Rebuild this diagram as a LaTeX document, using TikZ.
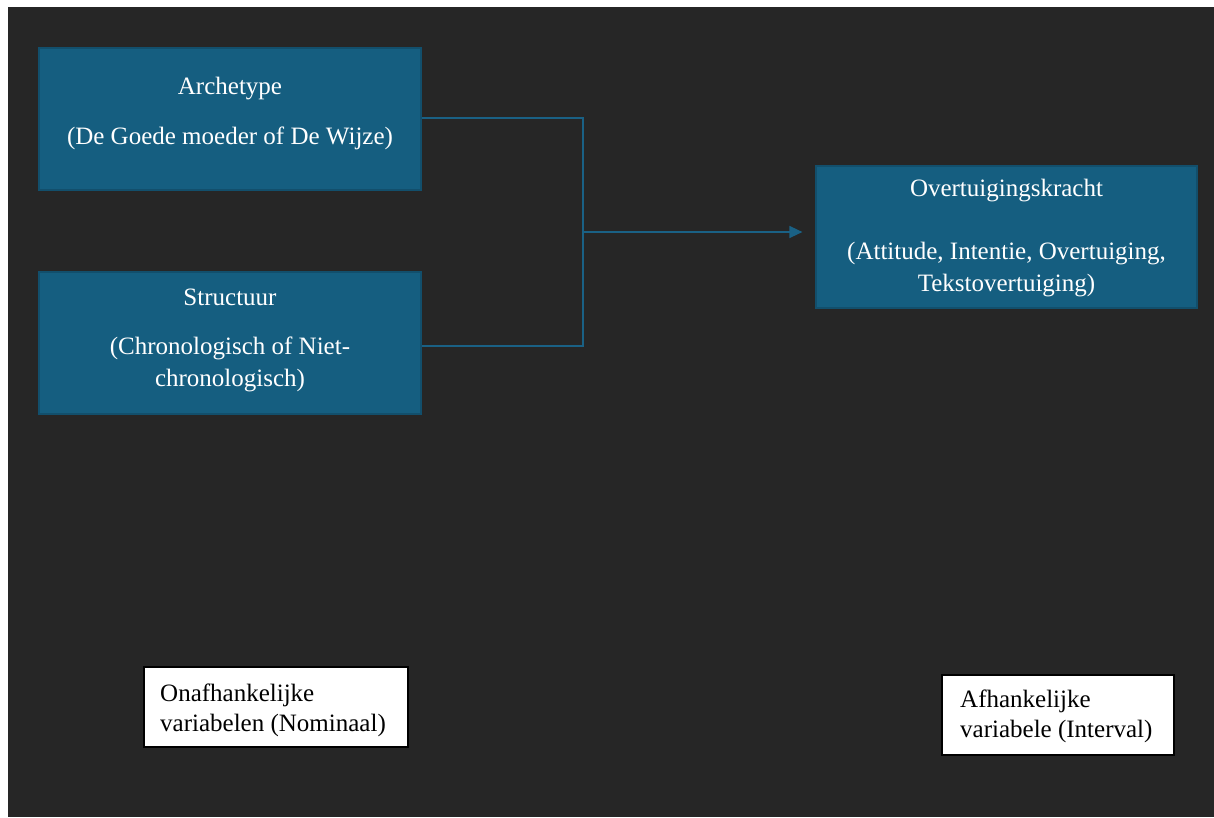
\documentclass[tikz,border=0pt]{standalone}
\usepackage{fontspec}
\setmainfont{Liberation Serif}
\usetikzlibrary{arrows.meta,positioning}

\definecolor{darkbg}{HTML}{262626}
\definecolor{boxblue}{HTML}{155E80}
\definecolor{boxedge}{HTML}{124F6C}
\definecolor{linkblue}{HTML}{1A6185}

\tikzset{
  varbox/.style={draw=boxedge, line width=1.2pt, fill=boxblue, minimum width=382pt, minimum height=142pt, inner sep=0pt},
  vartext/.style={text=white, align=center, inner sep=0pt, font=\fontsize{25}{32}\selectfont},
  legendbox/.style={draw=black, line width=1.2pt, fill=white, minimum height=80pt, inner sep=0pt},
  legendtext/.style={text=black, align=left, anchor=west, inner sep=0pt, font=\fontsize{25}{30}\selectfont},
  link/.style={draw=linkblue, line width=1.4pt}
}

\begin{document}
\begin{tikzpicture}[x=1pt, y=-1pt]
        \useasboundingbox[fill=white] (0,0) rectangle (1214,817);
        \fill[darkbg] (8,7) rectangle (1214,817);
        % onafhankelijke variabelen
        \node[varbox] (arch) at (230,119) {};
        \node[vartext] (archtxt) at (230,113) {Archetype\\[18pt](De Goede moeder of De Wijze)};
        \node[varbox] (struc) at (230,343) {};
        \node[vartext] (structxt) at (230,340) {Structuur\\[17pt](Chronologisch of Niet-\\chronologisch)};
        % afhankelijke variabele
        \node[varbox, minimum width=381pt] (overt) at (1006.5,237) {};
        \node[vartext] (overttxt) at (1006.5,238.5) {Overtuigingskracht\\[31pt](Attitude, Intentie, Overtuiging,\\Tekstovertuiging)};
        % verbindingen
        \coordinate (joint) at (583,232);
        \draw[link] ([yshift=1pt]arch.east) -| (joint) |- ([yshift=-3pt]struc.east);
        \draw[link, -{Triangle[length=13pt, width=12pt]}, shorten >=13pt] (joint) -- (joint -| overt.west);
        % legenda
        \node[legendbox, minimum width=264pt] (onaf) at (276,707) {};
        \node[legendtext] (onaftxt) at (160,710.5) {Onafhankelijke\\variabelen (Nominaal)};
        \node[legendbox, minimum width=232pt] (afh) at (1058,715) {};
        \node[legendtext] (afhtxt) at (960,716.5) {Afhankelijke\\variabele (Interval)};
    \end{tikzpicture}
\end{document}
